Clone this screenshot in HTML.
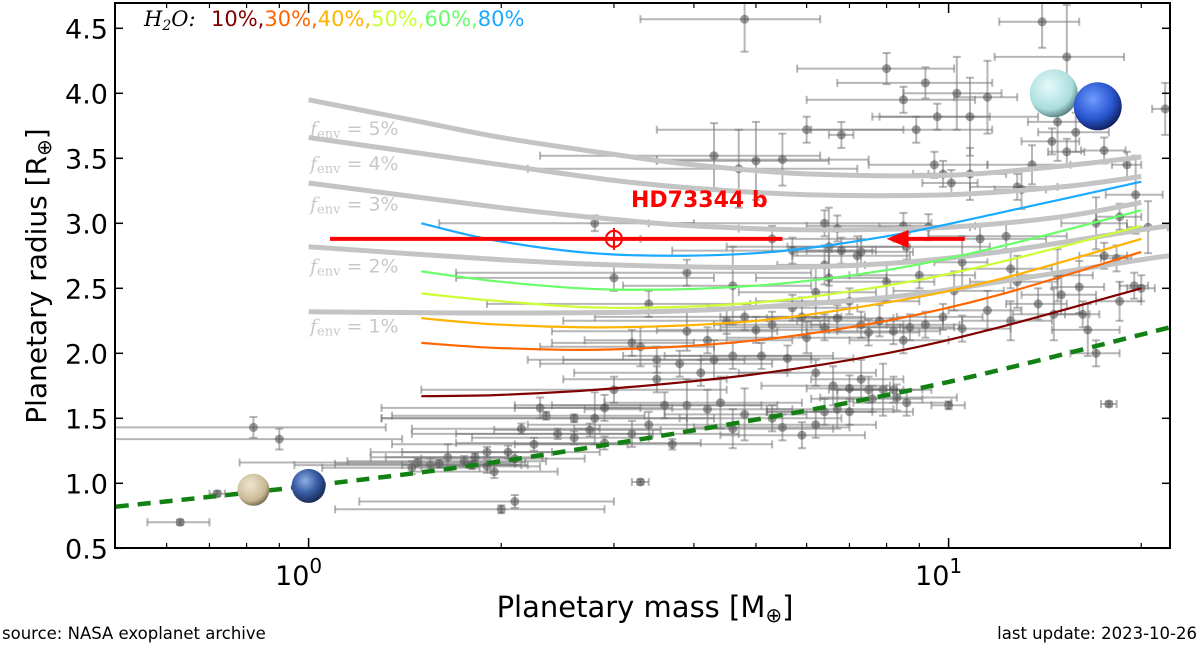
<!DOCTYPE html>
<html><head><meta charset="utf-8"><style>
html,body{margin:0;padding:0;background:#fff;width:1200px;height:645px;overflow:hidden}
svg{display:block;font-family:"DejaVu Sans","Liberation Sans",sans-serif}
</style></head><body>
<svg id="chart" width="1200" height="645" viewBox="0 0 1200 645" xmlns="http://www.w3.org/2000/svg">
<defs>
<clipPath id="plotclip"><rect x="115" y="3" width="1055" height="545"/></clipPath>
<radialGradient id="gVenus" cx="0.4" cy="0.35" r="0.7"><stop offset="0" stop-color="#efe6d2"/><stop offset="0.7" stop-color="#c9b894"/><stop offset="1" stop-color="#6b5e48"/></radialGradient>
<radialGradient id="gEarth" cx="0.4" cy="0.35" r="0.7"><stop offset="0" stop-color="#8fb0e0"/><stop offset="0.5" stop-color="#3a5fa8"/><stop offset="1" stop-color="#13244a"/></radialGradient>
<radialGradient id="gUranus" cx="0.4" cy="0.35" r="0.7"><stop offset="0" stop-color="#e6fafa"/><stop offset="0.7" stop-color="#aadddd"/><stop offset="1" stop-color="#4a7070"/></radialGradient>
<radialGradient id="gNeptune" cx="0.4" cy="0.35" r="0.7"><stop offset="0" stop-color="#6f9cff"/><stop offset="0.6" stop-color="#2a56d0"/><stop offset="1" stop-color="#0a1a50"/></radialGradient>
</defs>
<rect x="0" y="0" width="1200" height="645" fill="#fff"/>
<g id="plot" clip-path="url(#plotclip)"></g>
<g id="over"></g>
<rect x="115" y="3" width="1055" height="545" fill="none" stroke="#000" stroke-width="2"/>
<g id="axes"></g>
<text x="46" y="276" transform="rotate(-90 46 276)" text-anchor="middle" font-size="28">Planetary radius [R<tspan font-size="20" dy="5">⊕</tspan><tspan dy="-5">]</tspan></text>
<text x="645" y="617" text-anchor="middle" font-size="29">Planetary mass [M<tspan font-size="20" dy="5">⊕</tspan><tspan dy="-5">]</tspan></text>
<text x="2" y="639" font-size="16.5">source: NASA exoplanet archive</text>
<text x="1197" y="639" font-size="16.5" text-anchor="end">last update: 2023-10-26</text>
<g>
<text x="144" y="26" font-size="21" font-family="DejaVu Serif, serif" font-style="italic">H<tspan font-size="14" dy="4">2</tspan><tspan dy="-4">O:</tspan></text>
<text x="211" y="26" font-size="21"><tspan fill="#800000">10%,</tspan><tspan fill="#ff6600">30%,</tspan><tspan fill="#ffb300">40%,</tspan><tspan fill="#ccff33">50%,</tspan><tspan fill="#66ff66">60%,</tspan><tspan fill="#1aaaff">80%</tspan></text>
</g>
</svg>
<script>
// ---- data ----
const massP  = [0.63,0.72,0.82,0.9,4.8,14,15.3,8.0,9.2,10.3,11.5,8.5,9.6,8.9,10.8,6.0,6.8,14.8,15.8,14.5,15.3,17.5,21.8,13.5,4.3,5.5,5.0,4.7,9.5,9.8,10.1,12.8,13.0,10.8,19,2.8,6.4,6.7,8.5,12.3,11.2,9.3,18.5,17,20.5,19.6,5.3,6.5,7.3,8.6,7.2,5.7,6.4,6.8,3.0,3.9,4.6,6.2,6.5,8.0,9.0,10.5,10.2,12.5,12.8,14.8,16,18.3,17.5,18.5,19.5,20,15,3.4,3.9,4.2,4.5,4.8,5.0,5.3,5.7,5.9,6.0,6.4,6.7,7.0,7.3,7.5,7.8,8.2,8.5,8.7,9.2,9.8,10.5,11.5,12.5,13.8,14.6,16.5,17,16.2,3.2,3.3,3.5,3.8,4.3,4.6,5.1,5.6,6.2,6.6,7.3,7.5,4.1,3.5,3.9,4.2,4.4,4.8,5.3,5.5,5.9,6.2,6.4,6.7,7.0,7.6,7.9,8.3,8.6,8.2,7.0,4.6,3.6,3.0,3.4,3.2,2.9,2.3,2.35,2.6,2.8,2.9,2.75,2.15,2.45,2.6,2.25,3.7,1.9,1.65,1.55,1.48,1.45,1.6,1.75,1.8,1.9,1.95,2.05,2.1,1.82,2.0,2.1,3.3,17.8,10.0];
const radiusP= [0.70,0.92,1.43,1.34,4.57,4.55,4.28,4.19,4.08,4.0,3.97,3.95,3.82,3.72,3.82,3.72,3.68,3.78,3.7,3.63,3.55,3.56,3.88,3.45,3.52,3.49,3.48,3.42,3.45,3.38,3.31,3.28,3.26,3.38,3.45,3.0,3.0,2.96,2.98,2.9,2.88,2.97,3.05,3.0,2.97,3.22,2.88,2.82,2.78,2.82,2.75,2.79,2.68,2.79,2.58,2.62,2.52,2.47,2.58,2.55,2.6,2.7,2.48,2.65,2.55,2.6,2.51,2.73,2.75,2.4,2.52,2.5,2.45,2.38,2.17,2.1,2.25,2.28,2.18,2.22,2.35,2.28,2.12,2.2,2.27,2.4,2.22,2.16,2.25,2.17,2.1,2.2,2.22,2.28,2.19,2.33,2.25,2.38,2.3,2.18,2.0,2.3,2.08,2.05,1.95,1.92,1.95,1.98,1.98,1.96,1.85,1.75,1.8,1.72,1.85,1.8,1.6,1.57,1.62,1.53,1.5,1.43,1.37,1.45,1.55,1.57,1.55,1.65,1.72,1.66,1.62,1.72,1.73,1.42,1.6,1.72,1.45,1.38,1.31,1.58,1.52,1.5,1.5,1.58,1.41,1.42,1.38,1.35,1.3,1.3,1.24,1.2,1.14,1.16,1.12,1.15,1.17,1.14,1.13,1.09,1.24,1.19,1.2,0.8,0.86,1.01,1.61,1.6];
const massErr= [0.07,0.02,0.5,0.5,1.5,2,3.5,2.2,2.5,1.8,1.3,2.5,2,2.8,3,2.5,0.3,1.5,2,1.5,1,1.4,1,2,2,2,1.5,2.5,2,1,1,2,1.2,1.5,1,1.2,3,2,2.5,3,3,1.5,1.5,2,1.5,2,2,2,1.5,3,1.5,2,1,0.8,1.3,2.2,1.5,1.5,1.5,1.5,2,1,2,2,2,2,1.5,1,1.5,1.5,1,1,2,1.5,1.5,1.5,2,2,1.5,1,1.5,1.5,1.5,2,1.5,2,1.2,1.5,2,1.5,1.5,1.5,1.2,1.5,2,1.5,2,1.5,2,2,1.5,1,0.8,1,1.3,1.5,1.8,1.5,1.5,1.5,1.5,1.5,1.2,1,1.5,1,1.5,1.5,1.5,1.2,1.5,1.5,1.5,1.5,1.2,1.5,1.8,1.5,1.2,2,1.5,1.2,1,2,1.5,1.5,1.2,1.5,1.2,1,1,1.3,1.5,0.8,0.8,0.7,1,0.8,0.9,1.6,0.5,0.4,0.6,0.7,0.4,0.5,0.6,0.4,0.4,0.5,0.8,0.6,0.5,0.9,0.9,0.1,0.5,0.6];
const radErr = [0.02,0.02,0.08,0.08,0.25,0.2,0.4,0.12,0.12,0.28,0.28,0.1,0.1,0.1,0.3,0.1,0.1,0.3,0.15,0.1,0.1,0.1,0.2,0.15,0.25,0.2,0.3,0.3,0.1,0.1,0.1,0.1,0.15,0.2,0.1,0.06,0.1,0.1,0.1,0.1,0.1,0.1,0.1,0.2,0.2,0.3,0.1,0.3,0.1,0.1,0.15,0.1,0.15,0.1,0.1,0.1,0.3,0.2,0.2,0.15,0.1,0.2,0.15,0.15,0.2,0.2,0.2,0.1,0.1,0.15,0.1,0.1,0.15,0.1,0.15,0.1,0.1,0.1,0.1,0.1,0.1,0.15,0.12,0.1,0.1,0.1,0.1,0.1,0.12,0.1,0.1,0.1,0.1,0.1,0.1,0.15,0.15,0.12,0.2,0.2,0.1,0.1,0.1,0.15,0.1,0.1,0.15,0.1,0.1,0.1,0.1,0.15,0.15,0.1,0.1,0.1,0.2,0.15,0.2,0.2,0.1,0.1,0.1,0.1,0.1,0.15,0.1,0.1,0.2,0.1,0.1,0.1,0.1,0.15,0.1,0.1,0.1,0.1,0.05,0.08,0.03,0.03,0.2,0.1,0.05,0.04,0.04,0.05,0.05,0.04,0.04,0.1,0.05,0.03,0.05,0.03,0.04,0.03,0.05,0.05,0.05,0.05,0.03,0.03,0.05,0.02,0.02,0.03];

const envLabels = ["5%","4%","3%","2%","1%"];
const envMass = [
 [1,1.5,2,3,4,6,10,15,20],
 [1,2,3,4,6,10,15,20],
 [1,2,3,4,6,10,15,20],
 [1,2,3,5,8,12,20,22.2],
 [1,2,4,8,12,20,22.2]];
const envRad = [
 [3.95,3.78,3.66,3.53,3.45,3.38,3.37,3.44,3.51],
 [3.66,3.45,3.33,3.27,3.22,3.22,3.28,3.36],
 [3.31,3.12,3.03,2.98,2.95,2.97,3.05,3.16],
 [2.82,2.72,2.68,2.66,2.69,2.78,2.95,2.98],
 [2.32,2.31,2.33,2.43,2.55,2.72,2.75]];
const envLabelR = [3.68,3.41,3.1,2.62,2.16];

const h2oLabels = ["80%","60%","50%","40%","30%","10%"];
const h2oColors = ["#1aaaff","#66ff66","#ccff33","#ffb300","#ff6600","#800000"];
const h2oMass = [1.5,2,3,5,8,12,20];
const h2oRad = [
 [3.0,2.86,2.76,2.77,2.90,3.08,3.32],
 [2.63,2.55,2.49,2.52,2.64,2.82,3.1],
 [2.46,2.40,2.35,2.39,2.52,2.70,2.98],
 [2.27,2.22,2.20,2.25,2.39,2.57,2.88],
 [2.08,2.04,2.03,2.10,2.25,2.45,2.78],
 [1.67,1.68,1.73,1.84,2.00,2.20,2.50]];

const rockyMass = [0.5,1,2,5,10,22.2];
const rockyRad  = [0.82,0.98,1.17,1.49,1.78,2.20];

const targetMass = 3.0, targetRad = 2.88, targetMassLo = 1.08, targetMassHi = 5.5;
const arrowFrom = 10.6, arrowTo = 8.0;

const yTicks = [0.5,1.0,1.5,2.0,2.5,3.0,3.5,4.0,4.5];
const xMajor = [1,10];
const xMinor = [0.6,0.7,0.8,0.9,2,3,4,5,6,7,8,9,20];

// ---- scales ----
const X0=308.6, DEC=640, Y45=28.3, YPU=130;
function sx(m){return X0+Math.log10(m)*DEC;}
function sy(r){return Y45+(4.5-r)*YPU;}
const NS="http://www.w3.org/2000/svg";
function mk(tag,attrs,parent){const e=document.createElementNS(NS,tag);for(const k in attrs)e.setAttribute(k,attrs[k]);parent.appendChild(e);return e;}
function smooth(pts){
  let d="M"+pts[0][0].toFixed(1)+","+pts[0][1].toFixed(1);
  for(let i=0;i<pts.length-1;i++){
    const p0=pts[Math.max(0,i-1)],p1=pts[i],p2=pts[i+1],p3=pts[Math.min(pts.length-1,i+2)];
    const c1=[p1[0]+(p2[0]-p0[0])/6,p1[1]+(p2[1]-p0[1])/6];
    const c2=[p2[0]-(p3[0]-p1[0])/6,p2[1]-(p3[1]-p1[1])/6];
    d+=" C"+c1[0].toFixed(1)+","+c1[1].toFixed(1)+" "+c2[0].toFixed(1)+","+c2[1].toFixed(1)+" "+p2[0].toFixed(1)+","+p2[1].toFixed(1);
  }
  return d;
}
const plot=document.getElementById('plot'), over=document.getElementById('over'), axes=document.getElementById('axes');

// scatter points
const gPts=mk('g',{},plot);


for(let i=0;i<massP.length;i++){
  const m=massP[i],r=radiusP[i],dm=massErr[i],dr=radErr[i];
  const g=mk('g',{stroke:'rgba(110,110,110,0.5)','stroke-width':2},gPts);
  
  
  const xl=sx(Math.max(m-dm,0.05)),xr=sx(m+dm),x=sx(m),y=sy(r),yt=sy(r+dr),yb=sy(r-dr);
  mk('line',{x1:xl,x2:xr,y1:y,y2:y},g);
  mk('line',{x1:x,x2:x,y1:yt,y2:yb},g);
  mk('line',{x1:xl,x2:xl,y1:y-4,y2:y+4},g);
  mk('line',{x1:xr,x2:xr,y1:y-4,y2:y+4},g);
  mk('line',{x1:x-4,x2:x+4,y1:yt,y2:yt},g);
  mk('line',{x1:x-4,x2:x+4,y1:yb,y2:yb},g);
  mk('circle',{cx:x,cy:y,r:4.5,fill:'rgba(60,60,60,0.5)',stroke:'none'},g);
}

// envelope curves
for(let k=0;k<envMass.length;k++){
  const pts=envMass[k].map((m,j)=>[sx(m),sy(envRad[k][j])]);
  const p=mk('path',{d:smooth(pts),fill:'none',stroke:'#c4c4c4','stroke-width':5},plot);
  
  
  const t=mk('text',{x:310,y:sy(envLabelR[k]),'font-size':19,fill:'#c8c8c8'},plot);
  
  
  t.innerHTML='<tspan font-style="italic" font-family="DejaVu Serif, serif">f</tspan><tspan font-size="13" dy="3" font-family="DejaVu Serif, serif">env</tspan><tspan dy="-3"> = '+envLabels[k]+'</tspan>';
}
// H2O curves
for(let k=0;k<h2oRad.length;k++){
  const pts=h2oMass.map((m,j)=>[sx(m),sy(h2oRad[k][j])]);
  const p=mk('path',{d:smooth(pts),fill:'none',stroke:h2oColors[k],'stroke-width':2.2},plot);
  
  
}
// rocky line
{
  const pts=rockyMass.map((m,j)=>[sx(m),sy(rockyRad[j])]);
  const p=mk('path',{d:smooth(pts),fill:'none',stroke:'#138013','stroke-width':4.5,'stroke-dasharray':'13,9'},plot);
  
  
}
// planets
function planet(cx,cy,r,grad,name){
  const c=mk('circle',{cx:cx,cy:cy,r:r,fill:'url(#'+grad+')'},over);
  
  
}
planet(sx(0.82),sy(0.95),16,'gVenus','venus-icon');
planet(sx(1.0),sy(0.98),17,'gEarth','earth-icon');
planet(sx(14.6),sy(4.0),24,'gUranus','uranus-icon');
planet(sx(17.1),sy(3.9),24,'gNeptune','neptune-icon');

// target planet
{
  const g=mk('g',{},over);
  
  
  const y=sy(targetRad);
  mk('line',{x1:sx(targetMassLo),x2:sx(targetMassHi),y1:y,y2:y,stroke:'#ff0000','stroke-width':4},g);
  mk('circle',{cx:sx(targetMass),cy:y,r:8,fill:'none',stroke:'#ff0000','stroke-width':2},g);
  mk('line',{x1:sx(targetMass),x2:sx(targetMass),y1:y-11,y2:y+11,stroke:'#ff0000','stroke-width':2},g);
  const a=mk('g',{},over);
  
  
  const xa=sx(arrowTo),xb=sx(arrowFrom);
  mk('line',{x1:xb,x2:xa+15,y1:y,y2:y,stroke:'#ff0000','stroke-width':4},a);
  mk('polygon',{points:xa+','+y+' '+(xa+22)+','+(y-9)+' '+(xa+22)+','+(y+9),fill:'#ff0000'},a);
  const t=mk('text',{x:631,y:207,'font-size':22,'font-weight':'bold',fill:'#ff0000'},over);
  
  
  t.textContent='HD73344 b';
}

// axes ticks
for(const v of yTicks){
  const y=sy(v);
  mk('line',{x1:115,x2:123,y1:y,y2:y,stroke:'#000','stroke-width':1.5},axes);
  mk('line',{x1:1162,x2:1170,y1:y,y2:y,stroke:'#000','stroke-width':1.5},axes);
  const t=mk('text',{x:108,y:y+10,'font-size':27,'text-anchor':'end'},axes);
  
  
  t.textContent=v.toFixed(1);
}
for(const v of xMajor){
  const x=sx(v);
  mk('line',{x1:x,x2:x,y1:548,y2:538,stroke:'#000','stroke-width':1.5},axes);
  mk('line',{x1:x,x2:x,y1:3,y2:13,stroke:'#000','stroke-width':1.5},axes);
  const t=mk('text',{x:x-10,y:585,'font-size':27,'text-anchor':'middle'},axes);
  
  
  t.innerHTML='10<tspan font-size="20" dy="-12">'+Math.round(Math.log10(v))+'</tspan>';
}
for(const v of xMinor){
  const x=sx(v);
  mk('line',{x1:x,x2:x,y1:548,y2:543,stroke:'#000','stroke-width':1.2},axes);
  mk('line',{x1:x,x2:x,y1:3,y2:8,stroke:'#000','stroke-width':1.2},axes);
}
</script>
</body></html>
